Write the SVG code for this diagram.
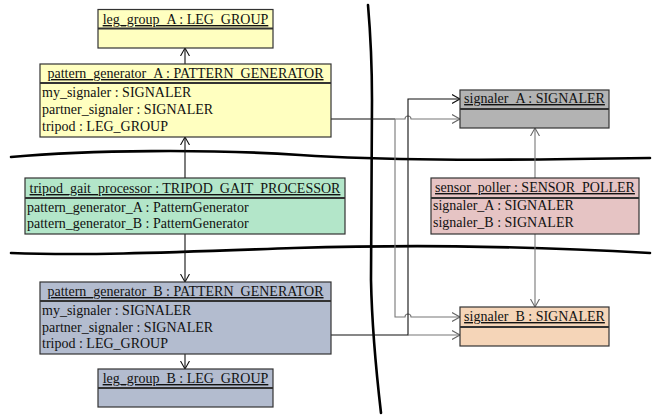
<svg xmlns="http://www.w3.org/2000/svg" width="657" height="417" viewBox="0 0 657 417">
<style>
text{font-family:'Liberation Serif','Times New Roman',Times,serif;font-size:14px;fill:#111}
.t{text-anchor:middle;text-decoration:underline}
.b{stroke:#333;stroke-width:1.2}
.h{stroke:#333;stroke-width:2}
.yel{fill:#ffffc0}.grn{fill:#b3e6c9}.blu{fill:#b3bccf}.gry{fill:#b3b3b3}.pnk{fill:#e6c4c4}.pch{fill:#f5d5b8}
.c{fill:none;stroke:#111;stroke-width:1.1}
.g{fill:none;stroke:#777;stroke-width:1.1}
.sw{fill:none;stroke:#000;stroke-width:2.6;stroke-linecap:round}
</style>
<defs>
<marker id="ad" markerWidth="12" markerHeight="12" refX="8" refY="5" orient="auto" markerUnits="userSpaceOnUse"><path d="M0,0.5 L8,5 L0,9.5" fill="none" stroke="#111" stroke-width="1.1"/></marker>
<marker id="ag" markerWidth="12" markerHeight="12" refX="8" refY="5" orient="auto" markerUnits="userSpaceOnUse"><path d="M0,0.5 L8,5 L0,9.5" fill="none" stroke="#666" stroke-width="1.1"/></marker>
</defs>

<g id="swimlanes">
<path class="sw" d="M11,157 C90,150 210,149 300,155 C380,160 470,161 650,158"/>
<path class="sw" d="M11,253 C90,256 180,252 294,248 C400,245 500,245 650,253"/>
<path class="sw" d="M368,5 C371,40 372,70 372,100 L371,280 C372,330 376,370 381,413"/>
</g>

<g id="connectors">
<path class="c" d="M185,64 V48" marker-end="url(#ad)"/>
<path class="c" d="M185,178 V137" marker-end="url(#ad)"/>
<path class="c" d="M185,234 V282" marker-end="url(#ad)"/>
<path class="c" d="M185,354 V369" marker-end="url(#ad)"/>
<path class="g" d="M535,178 V128" marker-end="url(#ag)"/>
<path class="g" d="M535,234 V307" marker-end="url(#ag)"/>
<path class="c" d="M331,119 H395"/>
<path class="g" d="M395,119 H405 A3,3 0 0 1 411,119 H460" marker-end="url(#ag)"/>
<path class="g" d="M395,119 V317 H405 A3,3 0 0 1 411,317 H460" marker-end="url(#ag)"/>
<path class="c" d="M331,335 H408 V99 H460" marker-end="url(#ad)"/>
<path class="g" d="M408,335 H460" marker-end="url(#ag)"/>
</g>

<g font-family="'Liberation Serif', serif" font-size="14">
<g id="leg_group_A">
<rect class="b yel" x="98" y="9.5" width="175" height="38.5"/>
<line class="h" x1="98" y1="28.5" x2="273" y2="28.5"/>
<text class="t" x="185.5" y="24">leg_group_A : LEG_GROUP</text>
</g>

<g id="pattern_generator_A">
<rect class="b yel" x="40" y="64" width="291" height="73"/>
<line class="h" x1="40" y1="83" x2="331" y2="83"/>
<text class="t" x="185.5" y="78">pattern_generator_A : PATTERN_GENERATOR</text>
<text x="42" y="97">my_signaler : SIGNALER</text>
<text x="42" y="114">partner_signaler : SIGNALER</text>
<text x="42" y="131">tripod : LEG_GROUP</text>
</g>

<g id="tripod_gait_processor">
<rect class="b grn" x="25" y="178" width="320" height="56"/>
<line class="h" x1="25" y1="198" x2="345" y2="198"/>
<text class="t" x="185" y="193">tripod_gait_processor : TRIPOD_GAIT_PROCESSOR</text>
<text x="27" y="212">pattern_generator_A : PatternGenerator</text>
<text x="27" y="228">pattern_generator_B : PatternGenerator</text>
</g>

<g id="pattern_generator_B">
<rect class="b blu" x="40" y="282" width="291" height="72"/>
<line class="h" x1="40" y1="301" x2="331" y2="301"/>
<text class="t" x="185.5" y="296">pattern_generator_B : PATTERN_GENERATOR</text>
<text x="42" y="315">my_signaler : SIGNALER</text>
<text x="42" y="332">partner_signaler : SIGNALER</text>
<text x="42" y="348">tripod : LEG_GROUP</text>
</g>

<g id="leg_group_B">
<rect class="b blu" x="98" y="369" width="175" height="38"/>
<line class="h" x1="98" y1="388" x2="273" y2="388"/>
<text class="t" x="185.5" y="383">leg_group_B : LEG_GROUP</text>
</g>

<g id="signaler_A">
<rect class="b gry" x="460" y="90" width="149" height="38"/>
<line class="h" x1="460" y1="109" x2="609" y2="109"/>
<text class="t" x="534.5" y="103">signaler_A : SIGNALER</text>
</g>

<g id="sensor_poller">
<rect class="b pnk" x="431" y="178" width="208" height="56"/>
<line class="h" x1="431" y1="198" x2="639" y2="198"/>
<text class="t" x="535" y="192">sensor_poller : SENSOR_POLLER</text>
<text x="433" y="210">signaler_A : SIGNALER</text>
<text x="433" y="227">signaler_B : SIGNALER</text>
</g>

<g id="signaler_B">
<rect class="b pch" x="460" y="307" width="149" height="39"/>
<line class="h" x1="460" y1="327" x2="609" y2="327"/>
<text class="t" x="534.5" y="321">signaler_B : SIGNALER</text>
</g>
</g>
</svg>
